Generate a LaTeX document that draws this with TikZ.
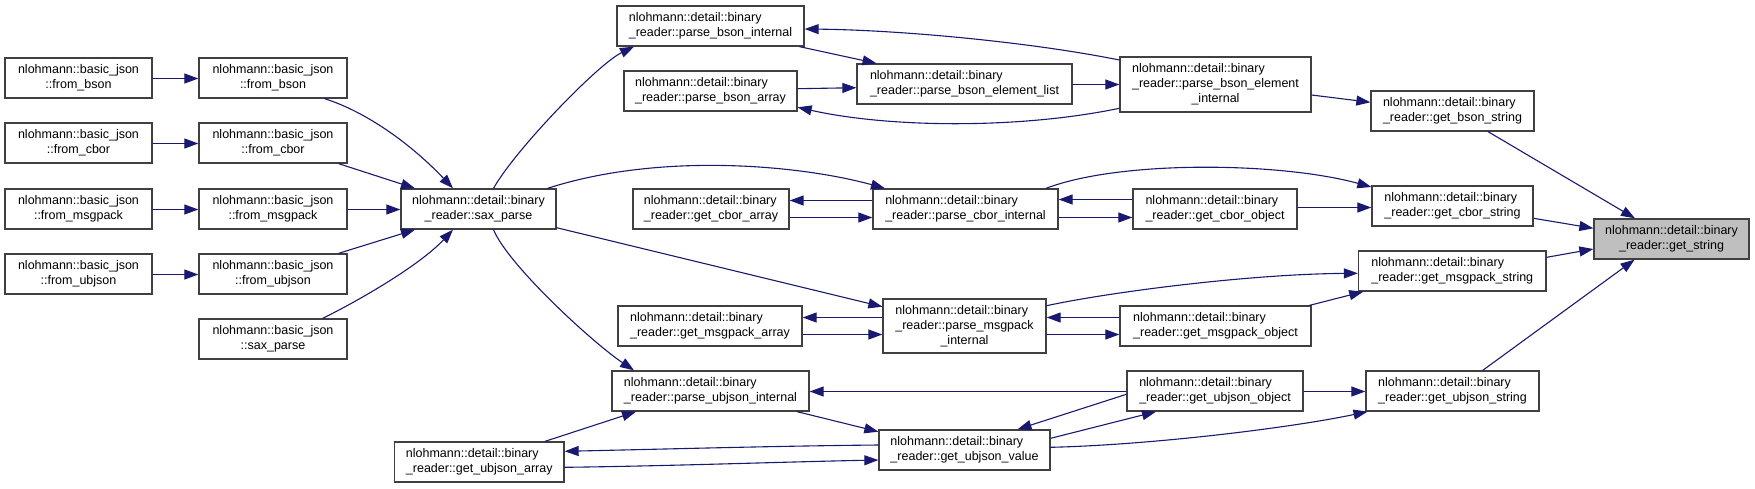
\documentclass[tikz,border=0pt]{standalone}
\usepackage{fontspec}
\setmainfont{Liberation Sans}
\usetikzlibrary{arrows.meta,calc}
\definecolor{edgec}{HTML}{191970}
\definecolor{boxc}{HTML}{404040}
\definecolor{hilite}{HTML}{BFBFBF}
\newcommand{\dtwo}[1]{\begin{tabular}{@{}l@{}}nlohmann::detail::binary\\\multicolumn{1}{@{}c@{}}{#1}\end{tabular}}
\newcommand{\dthree}[2]{\begin{tabular}{@{}l@{}}nlohmann::detail::binary\\#1\\\multicolumn{1}{@{}c@{}}{#2}\end{tabular}}
\newcommand{\bjt}[1]{\begin{tabular}{@{}c@{}}nlohmann::basic\_json\\#1\end{tabular}}
\begin{document}
\begin{tikzpicture}[x=1pt,y=-1pt,
  box/.style={draw=boxc, fill=white, line width=1.3pt, inner sep=0pt, font=\fontsize{12.5}{15}\selectfont},
  wh/.style 2 args={minimum width=#1pt, minimum height=#2pt},
  conn/.style={draw=edgec, line width=1.1pt, -{Triangle[length=14pt,width=10pt]}}]
\fill[white] (0,0) rectangle (1755,488);
\useasboundingbox (0,0) rectangle (1755,488);
% column 1 and 2
\node[box,wh={147}{40}] (bjfb) at (78.5,78) {\bjt{::from\_bson}};
\node[box,wh={148}{40}] (bjfbR) at (273,78) {\bjt{::from\_bson}};
\node[box,wh={147}{40}] (bjfc) at (78.5,143) {\bjt{::from\_cbor}};
\node[box,wh={148}{40}] (bjfcR) at (273,143) {\bjt{::from\_cbor}};
\node[box,wh={147}{40}] (bjfm) at (78.5,209) {\bjt{::from\_msgpack}};
\node[box,wh={148}{40}] (bjfmR) at (273,209) {\bjt{::from\_msgpack}};
\node[box,wh={147}{40}] (bjfu) at (78.5,274) {\bjt{::from\_ubjson}};
\node[box,wh={148}{40}] (bjfuR) at (273,274) {\bjt{::from\_ubjson}};
\node[box,wh={148}{40}] (bjsp) at (273,339) {\bjt{::sax\_parse}};
% column 3
\node[box,wh={155}{40}] (sax) at (478.5,209) {\dtwo{\_reader::sax\_parse}};
\node[box,wh={169.5}{40}] (gua) at (479.25,462) {\dtwo{\_reader::get\_ubjson\_array}};
% column 4
\node[box,wh={187}{40}] (pbi) at (710.5,26) {\dtwo{\_reader::parse\_bson\_internal}};
\node[box,wh={173}{40}] (pba) at (710.5,91) {\dtwo{\_reader::parse\_bson\_array}};
\node[box,wh={156}{40}] (gca) at (711,209) {\dtwo{\_reader::get\_cbor\_array}};
\node[box,wh={184}{40}] (gma) at (710,326) {\dtwo{\_reader::get\_msgpack\_array}};
\node[box,wh={197}{40}] (pui) at (710.5,391) {\dtwo{\_reader::parse\_ubjson\_internal}};
% column 5
\node[box,wh={215}{40}] (pbel) at (964.5,84) {\dtwo{\_reader::parse\_bson\_element\_list}};
\node[box,wh={185}{40}] (pci) at (965.5,209) {\dtwo{\_reader::parse\_cbor\_internal}};
\node[box,wh={163}{54}] (pmi) at (964.5,326) {\dthree{\_reader::parse\_msgpack}{\_internal}};
\node[box,wh={171}{40}] (guv) at (964.5,450) {\dtwo{\_reader::get\_ubjson\_value}};
% column 6
\node[box,wh={191}{55}] (pbei) at (1215.5,84.5) {\dthree{\_reader::parse\_bson\_element}{\_internal}};
\node[box,wh={164}{40}] (gco) at (1215,209) {\dtwo{\_reader::get\_cbor\_object}};
\node[box,wh={191}{40}] (gmo) at (1215.5,326) {\dtwo{\_reader::get\_msgpack\_object}};
\node[box,wh={176}{40}] (guo) at (1215,391) {\dtwo{\_reader::get\_ubjson\_object}};
% column 7
\node[box,wh={163}{40}] (gbs) at (1452.5,111) {\dtwo{\_reader::get\_bson\_string}};
\node[box,wh={161}{40}] (gcs) at (1452.5,206) {\dtwo{\_reader::get\_cbor\_string}};
\node[box,wh={187.5}{40}] (gms) at (1452.25,271) {\dtwo{\_reader::get\_msgpack\_string}};
\node[box,wh={173}{40}] (gus) at (1452.5,391) {\dtwo{\_reader::get\_ubjson\_string}};
% column 8
\node[box,wh={155}{40},fill=hilite] (gs) at (1671.5,239) {\dtwo{\_reader::get\_string}};
% edges
\draw[conn] ($(bjfb.east)+(0,0.5)$) -- ($(bjfbR.west)+(0,0.5)$);
\draw[conn] ($(bjfc.east)+(0,0.5)$) -- ($(bjfcR.west)+(0,0.5)$);
\draw[conn] ($(bjfm.east)+(0,0.5)$) -- ($(bjfmR.west)+(0,0.5)$);
\draw[conn] ($(bjfu.east)+(0,0.5)$) -- ($(bjfuR.west)+(0,0.5)$);
\draw[conn] ($(bjfbR.south)+(51.5,0)$) .. controls (367,112) and (412,145) .. ($(sax.north)+(-25.5,0)$);
\draw[conn] ($(bjfcR.south)+(65.6,0)$) -- ($(sax.north)+(-63.5,0)$);
\draw[conn] ($(bjfmR.east)+(0,0.5)$) -- ($(sax.west)+(0,0.5)$);
\draw[conn] ($(bjfuR.north)+(65.6,0)$) -- ($(sax.south)+(-63.5,0)$);
\draw[conn] ($(bjsp.north)+(49.6,0)$) .. controls (360,300) and (420,265) .. ($(sax.south)+(-25.5,0)$);
\draw[conn] ($(sax.north)+(15,0)$) .. controls (515,150) and (598,64) .. ($(pbi.south)+(-76.5,0)$);
\draw[conn] ($(sax.north)+(69,0)$) .. controls (660,152) and (800,165) .. ($(pci.north)+(-80.5,0)$);
\draw[conn] ($(sax.east)+(0,18.7)$) -- ($(pmi.west)+(0,-19.3)$);
\draw[conn] ($(sax.south)+(15,0)$) .. controls (508,265) and (593,343) .. ($(pui.north)+(-76.5,0)$);
\draw[conn] ($(pbi.south)+(89,0)$) -- ($(pbel.north)+(-88,0)$);
\draw[conn] ($(pbei.west)+(0,-24.5)$) .. controls (1030,42) and (900,30) .. ($(pbi.east)+(0,3)$);
\draw[conn] ($(pbel.east)+(0,0.5)$) -- (pbei.west);
\draw[conn] ($(pba.east)+(0,-2.3)$) -- ($(pbel.west)+(0,3.7)$);
\draw[conn] ($(pbei.west)+(0,23.8)$) .. controls (1020,129) and (890,128) .. ($(pba.east)+(0,16.3)$);
\draw[conn] ($(pbei.east)+(0,10.5)$) -- ($(gbs.west)+(0,-8.7)$);
\draw[conn] ($(gbs.south)+(35.5,0)$) -- ($(gs.north)+(-36.5,0)$);
\draw[conn] ($(pci.west)+(0,-8.5)$) -- ($(gca.east)+(0,-8.5)$);
\draw[conn] ($(gca.east)+(0,8.5)$) -- ($(pci.west)+(0,8.5)$);
\draw[conn] ($(gco.west)+(0,-9.5)$) -- ($(pci.east)+(0,-9.5)$);
\draw[conn] ($(pci.east)+(0,8.5)$) -- ($(gco.west)+(0,8.5)$);
\draw[conn] ($(pci.north)+(80.5,0)$) .. controls (1120,160) and (1280,162) .. ($(gcs.west)+(0,-19)$);
\draw[conn] ($(gco.east)+(0,-1.5)$) -- ($(gcs.west)+(0,1.5)$);
\draw[conn] ($(gcs.east)+(0,12.3)$) -- ($(gs.west)+(0,-10.7)$);
\draw[conn] ($(pmi.east)+(0,-20.3)$) .. controls (1110,292) and (1250,274) .. ($(gms.west)+(0,2.3)$);
\draw[conn] ($(gmo.north)+(94,0)$) -- ($(gms.south)+(-89,0)$);
\draw[conn] ($(gms.east)+(0,-13.7)$) -- ($(gs.west)+(0,10)$);
\draw[conn] ($(pmi.west)+(0,-8.5)$) -- ($(gma.east)+(0,-8.5)$);
\draw[conn] ($(gma.east)+(0,8.5)$) -- ($(pmi.west)+(0,8.5)$);
\draw[conn] ($(gmo.west)+(0,-8.5)$) -- ($(pmi.east)+(0,-8.5)$);
\draw[conn] ($(pmi.east)+(0,8.5)$) -- ($(gmo.west)+(0,8.5)$);
\draw[conn] ($(guo.west)+(0,0.5)$) -- ($(pui.east)+(0,0.5)$);
\draw[conn] ($(pui.south)+(86.6,0)$) -- ($(guv.west)+(0,-18.3)$);
\draw[conn] ($(gua.north)+(65.75,0)$) -- ($(pui.south)+(-74.5,0)$);
\draw[conn] ($(guv.west)+(0,-5)$) .. controls (775,446) and (670,449) .. ($(gua.east)+(0,-10.7)$);
\draw[conn] ($(gua.east)+(0,5.3)$) .. controls (670,466) and (780,462) .. ($(guv.west)+(0,10)$);
\draw[conn] ($(guo.west)+(0,3.3)$) -- ($(guv.north)+(53,0)$);
\draw[conn] ($(guv.east)+(0,-11.7)$) -- ($(guo.south)+(-59,0)$);
\draw[conn] ($(guv.east)+(0,-2.7)$) .. controls (1150,445) and (1290,428) .. ($(gus.south)+(-85,0)$);
\draw[conn] ($(guo.east)+(0,0.5)$) -- ($(gus.west)+(0,0.5)$);
\draw[conn] ($(gus.north)+(30.2,0)$) -- ($(gs.south)+(-37,0)$);
\end{tikzpicture}
\end{document}
